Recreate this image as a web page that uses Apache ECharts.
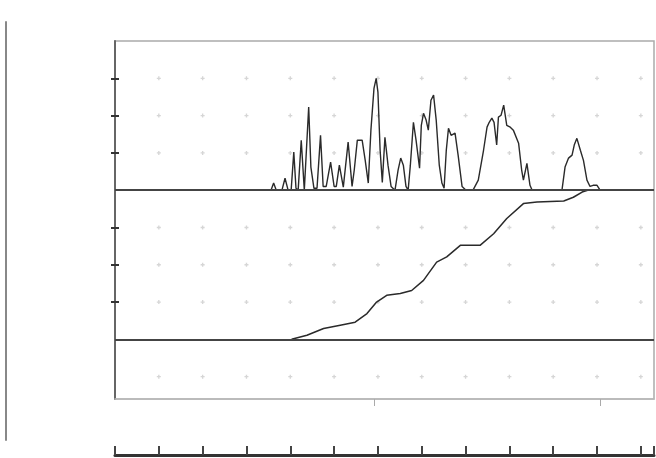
<!DOCTYPE html>
<html>
<head>
<meta charset="utf-8">
<script src="https://cdn.jsdelivr.net/npm/echarts@6/dist/echarts.min.js"></script>
<style>
html,body{margin:0;padding:0;background:#fff;}
#c{width:656px;height:458px;}
</style>
</head>
<body>
<div id="c"></div>
<script>
// Upper trace (spectrum-like signal), x in grid units, y above upper baseline
var specX = [3.42,3.56,3.62,3.68,3.81,3.88,3.95,4.02,4.08,4.13,4.18,4.25,4.32,4.36,4.42,4.47,4.54,4.61,4.69,4.75,4.82,4.92,5.00,5.05,5.12,5.21,5.25,5.32,5.41,5.46,5.53,5.64,5.71,5.78,5.84,5.91,5.96,6.00,6.05,6.10,6.16,6.23,6.30,6.39,6.46,6.52,6.58,6.64,6.69,6.74,6.81,6.87,6.95,6.99,7.04,7.10,7.15,7.21,7.27,7.33,7.40,7.46,7.51,7.56,7.61,7.67,7.76,7.83,7.92,8.01,8.17,8.29,8.41,8.49,8.54,8.60,8.65,8.71,8.75,8.81,8.87,8.94,9.02,9.09,9.21,9.28,9.32,9.40,9.47,9.52,10.20,10.27,10.35,10.43,10.48,10.54,10.62,10.69,10.77,10.84,10.91,11.00,11.07];
var specY = [0,0,0.19,0,0,0.32,0,0,1.02,0.05,0,1.34,0,0,2.23,0.62,0.05,0.05,1.47,0.1,0.1,0.75,0.1,0.1,0.67,0.08,0.13,1.29,0.1,0.54,1.34,1.34,0.8,0.19,1.61,2.73,3.0,2.63,1.07,0.21,1.42,0.67,0.1,0,0.54,0.86,0.67,0.1,0,0.67,1.82,1.34,0.59,1.74,2.06,1.88,1.61,2.41,2.55,1.88,0.67,0.19,0.05,1.07,1.66,1.47,1.53,0.94,0.1,0,0,0.27,1.07,1.69,1.82,1.93,1.82,1.21,1.96,2.01,2.28,1.74,1.69,1.61,1.26,0.54,0.27,0.72,0.13,0,0,0.62,0.86,0.94,1.21,1.39,1.07,0.8,0.27,0.1,0.13,0.13,0];

// Lower trace (cumulative curve)
var cumX = [4.03,4.38,4.76,5.14,5.48,5.75,5.97,6.20,6.51,6.77,7.04,7.34,7.57,7.88,8.33,8.64,8.94,9.32,9.63,10.24,10.46,10.66,10.82];
var cumY = [0,0.11,0.29,0.38,0.46,0.69,1.0,1.18,1.23,1.31,1.58,2.07,2.21,2.52,2.52,2.83,3.24,3.64,3.68,3.71,3.81,3.95,4.01];

// Tick / grid values
var gridDotX = [1,2,3,4,5,6,7,8,9,10,11,12];
var gridDotY = [-1,1,2,3,5,6,7];
var leftTicks = [1,2,3,5,6,7];
var boxBottomTicks = [5.91,11.07];
var baseLines = [0,4];

var specData = specX.map(function(x,i){return [x,specY[i]];});
var cumData = cumX.map(function(x,i){return [x,cumY[i]];});
var dots = [];
gridDotX.forEach(function(x){gridDotY.forEach(function(y){dots.push([x,y]);});});

var chart = echarts.init(document.getElementById('c'), null, {renderer:'canvas'});
chart.setOption({
  animation:false,
  backgroundColor:'#fff',
  grid:[
    {left:115,right:2,top:41,bottom:59,show:true,borderColor:'#aaa',borderWidth:1.5,backgroundColor:'transparent'},
    {left:115,right:2,top:454,height:1},
    {left:6,width:10,top:22,bottom:18}
  ],
  xAxis:[
    {gridIndex:0,type:'value',min:0,max:12.3,position:'bottom',
     axisLine:{show:true,onZero:false,lineStyle:{color:'#bbb',width:1.5}},
     axisTick:{show:true,customValues:boxBottomTicks,length:7,lineStyle:{color:'#aaa',width:1}},
     axisLabel:{show:false},splitLine:{show:false}},
    {gridIndex:1,type:'value',min:0,max:12.3,interval:1,
     axisLine:{show:true,onZero:false,lineStyle:{color:'#333',width:3}},
     axisTick:{show:true,inside:true,length:9,lineStyle:{color:'#444',width:2}},
     axisLabel:{show:false},splitLine:{show:false}},
    {gridIndex:2,type:'value',show:false,min:0,max:1}
  ],
  yAxis:[
    {gridIndex:0,type:'value',min:-1.6,max:8,
     axisLine:{show:true,onZero:false,lineStyle:{color:'#666',width:2}},
     axisTick:{show:true,customValues:leftTicks,length:4,lineStyle:{color:'#333',width:2}},
     axisLabel:{show:false},splitLine:{show:false}},
    {gridIndex:0,type:'value',min:-5.6,max:4,show:false},
    {gridIndex:0,type:'value',min:-1.6,max:8,position:'left',
     axisLine:{show:false},
     axisTick:{show:true,inside:true,customValues:leftTicks,length:4,lineStyle:{color:'#333',width:2}},
     axisLabel:{show:false},splitLine:{show:false}},
    {gridIndex:1,type:'value',show:false,min:0,max:1},
    {gridIndex:2,type:'value',min:0,max:1,
     axisLine:{show:true,onZero:false,lineStyle:{color:'#888',width:2}},
     axisTick:{show:false},axisLabel:{show:false},splitLine:{show:false}}
  ],
  series:[
    {type:'scatter',xAxisIndex:0,yAxisIndex:0,data:dots,silent:true,
     symbol:'path://M1,0H2V1H3V2H2V3H1V2H0V1H1Z',symbolSize:4,
     itemStyle:{color:'#cccccc'}},
    {type:'line',xAxisIndex:0,yAxisIndex:0,data:cumData,showSymbol:false,
     lineStyle:{color:'#2a2a2a',width:1.5},
     markLine:{silent:true,symbol:'none',label:{show:false},
       lineStyle:{color:'#444',width:2.2,type:'solid'},
       data:baseLines.map(function(v){return {yAxis:v};})}},
    {type:'line',xAxisIndex:0,yAxisIndex:1,data:specData,showSymbol:false,
     lineStyle:{color:'#2a2a2a',width:1.4}}
  ]
});
</script>
</body>
</html>
